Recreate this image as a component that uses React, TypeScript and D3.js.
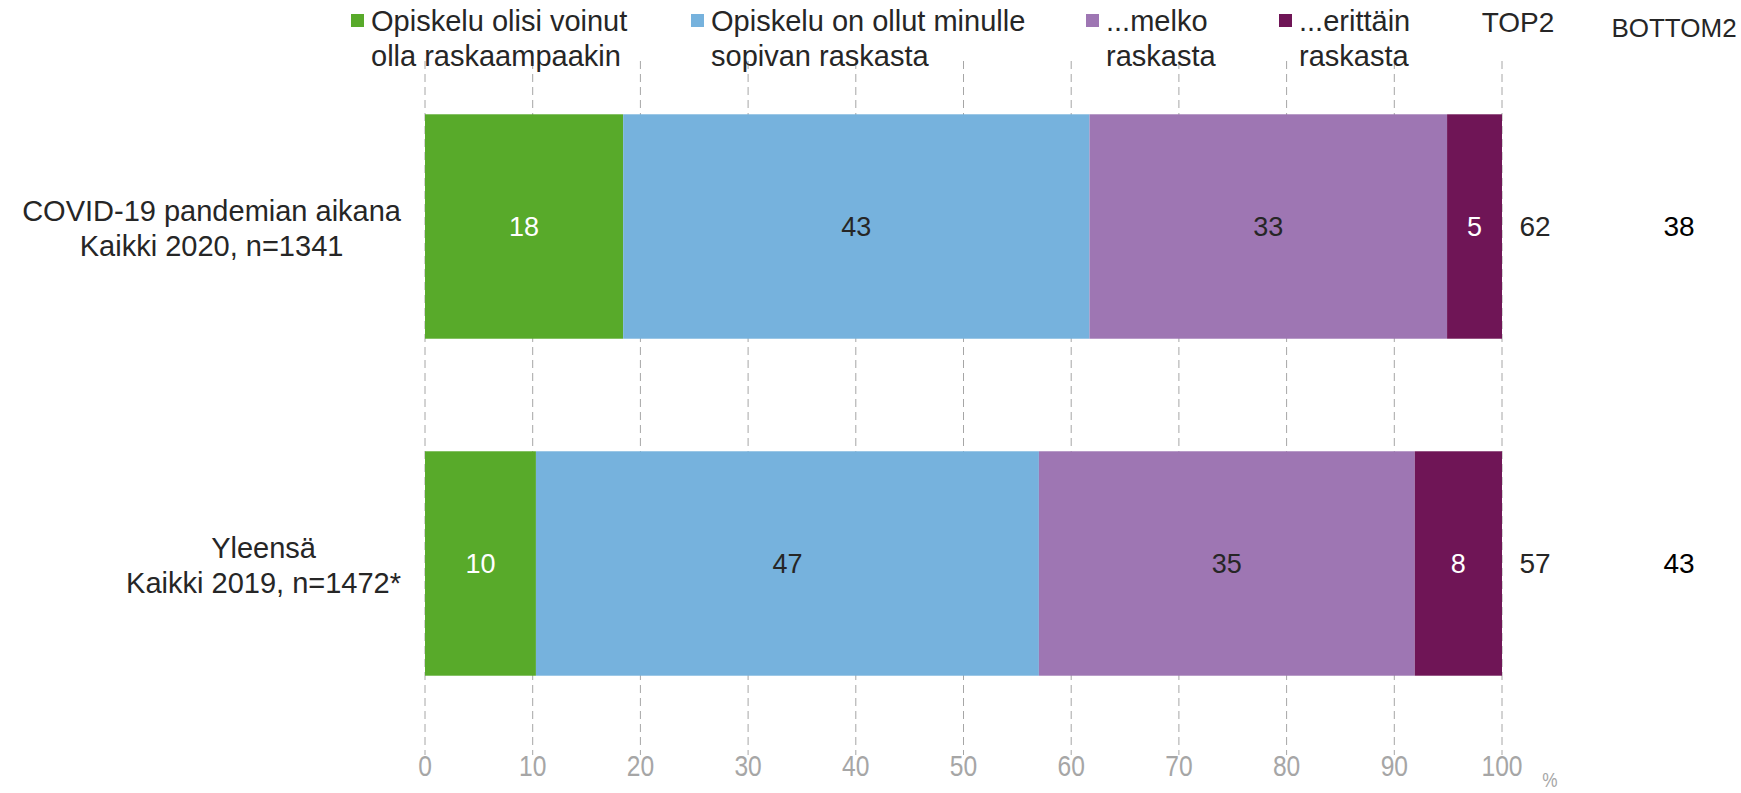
import React, { useRef, useEffect } from 'react';
import * as d3 from 'd3';

// data
const categories = [
  ['COVID-19 pandemian aikana', 'Kaikki 2020, n=1341'],
  ['Yleensä', 'Kaikki 2019, n=1472*'],
];
const seriesNames = [
  ['Opiskelu olisi voinut', 'olla raskaampaakin'],
  ['Opiskelu on ollut minulle', 'sopivan raskasta'],
  ['...melko', 'raskasta'],
  ['...erittäin', 'raskasta'],
];
const seriesValues = [
  [18.4, 10.3],
  [43.3, 46.7],
  [33.2, 34.9],
  [5.1, 8.1],
];
const seriesLabels = [
  [18, 10],
  [43, 47],
  [33, 35],
  [5, 8],
];
const top2 = [62, 57];
const bottom2 = [38, 43];
const xTicks = [0, 10, 20, 30, 40, 50, 60, 70, 80, 90, 100];

const colors = ['#58aa2a', '#76b2dd', '#9e76b3', '#6f1556'];
const labelColors = ['#ffffff', '#262626', '#262626', '#ffffff'];
const legendX = [351, 691, 1086, 1279];

const W = 1741;
const H = 793;
const FONT = 'Liberation Sans, Arial, sans-serif';

const App: React.FC = () => {
  const ref = useRef<SVGSVGElement | null>(null);

  useEffect(() => {
    const svg = d3.select(ref.current);
    svg.selectAll('*').remove();

    const x = d3.scaleLinear().domain([0, 100]).range([425, 1502]);
    const y = d3.scaleBand<number>()
      .domain(categories.map((_, i) => i))
      .range([57, 733])
      .paddingInner(0.334)
      .paddingOuter(0.17);

    // gridlines
    svg.append('g')
      .selectAll('line')
      .data(xTicks)
      .join('line')
      .attr('x1', (d) => x(d))
      .attr('x2', (d) => x(d))
      .attr('y1', 61)
      .attr('y2', 755)
      .attr('stroke', '#a6a6a6')
      .attr('stroke-width', 1)
      .attr('stroke-dasharray', '8,5');

    // bars
    categories.forEach((_, ci) => {
      let acc = 0;
      seriesValues.forEach((vals, si) => {
        const v = vals[ci];
        const x0 = x(acc);
        const x1 = x(acc + v);
        svg.append('rect')
          .attr('x', x0)
          .attr('y', y(ci)!)
          .attr('width', x1 - x0)
          .attr('height', y.bandwidth())
          .attr('fill', colors[si]);
        svg.append('text')
          .attr('x', (x0 + x1) / 2)
          .attr('y', y(ci)! + y.bandwidth() / 2)
          .attr('dy', '0.35em')
          .attr('text-anchor', 'middle')
          .style('font-family', FONT)
          .style('font-size', '27px')
          .style('fill', labelColors[si])
          .text(seriesLabels[si][ci]);
        acc += v;
      });

      // TOP2 / BOTTOM2
      const cy = y(ci)! + y.bandwidth() / 2;
      svg.append('text')
        .attr('x', 1535).attr('y', cy).attr('dy', '0.35em')
        .attr('text-anchor', 'middle')
        .style('font-family', FONT).style('font-size', '28px').style('fill', '#262626')
        .text(top2[ci]);
      svg.append('text')
        .attr('x', 1679).attr('y', cy).attr('dy', '0.35em')
        .attr('text-anchor', 'middle')
        .style('font-family', FONT).style('font-size', '28px').style('fill', '#000000')
        .text(bottom2[ci]);

      // category label, block right-aligned, lines centered
      const g = svg.append('g');
      const lines = categories[ci];
      const texts = lines.map((line, li) =>
        g.append('text')
          .attr('y', cy + 2 + (li - (lines.length - 1) / 2) * 35)
          .attr('dy', '0.35em')
          .attr('text-anchor', 'middle')
          .style('font-family', FONT)
          .style('font-size', '29px')
          .style('fill', '#262626')
          .text(line)
      );
      const maxW = d3.max(texts, (t) => (t.node() as SVGTextElement).getComputedTextLength()) || 0;
      texts.forEach((t) => t.attr('x', 401 - maxW / 2));
    });

    // x axis tick labels (narrow look)
    svg.append('g')
      .selectAll('text')
      .data(xTicks)
      .join('text')
      .attr('transform', (d) => `translate(${x(d)},765) scale(0.82,1)`)
      .attr('dy', '0.35em')
      .attr('text-anchor', 'middle')
      .style('font-family', FONT)
      .style('font-size', '30px')
      .style('fill', '#a6a6a6')
      .text((d) => d);
    svg.append('text')
      .attr('transform', 'translate(1550,780) scale(0.82,1)')
      .attr('dy', '0.35em')
      .attr('text-anchor', 'middle')
      .style('font-family', FONT).style('font-size', '21px').style('fill', '#a6a6a6')
      .text('%');

    // legend
    seriesNames.forEach((lines, si) => {
      svg.append('rect')
        .attr('x', legendX[si]).attr('y', 14)
        .attr('width', 13).attr('height', 13)
        .attr('fill', colors[si]);
      lines.forEach((line, li) => {
        svg.append('text')
          .attr('x', legendX[si] + 20)
          .attr('y', 21 + li * 35)
          .attr('dy', '0.35em')
          .style('font-family', FONT)
          .style('font-size', '29px')
          .style('fill', '#262626')
          .text(line);
      });
    });

    // headers
    svg.append('text')
      .attr('x', 1518).attr('y', 22).attr('dy', '0.35em')
      .attr('text-anchor', 'middle')
      .style('font-family', FONT).style('font-size', '28px').style('fill', '#262626')
      .text('TOP2');
    svg.append('text')
      .attr('x', 1674).attr('y', 28).attr('dy', '0.35em')
      .attr('text-anchor', 'middle')
      .style('font-family', FONT).style('font-size', '26px').style('fill', '#262626')
      .text('BOTTOM2');
  }, []);

  return (
    <svg
      ref={ref}
      width={W}
      height={H}
      style={{ position: 'absolute', left: 0, top: 0, background: '#fff' }}
    />
  );
};

export default App;
